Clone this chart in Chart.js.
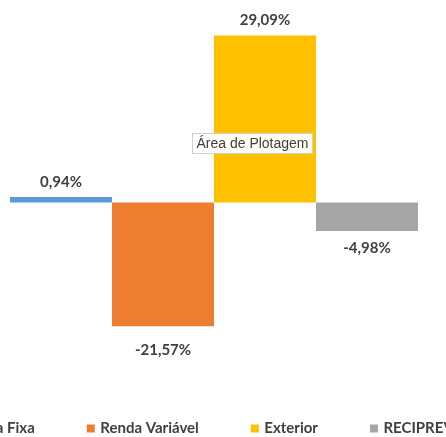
<!DOCTYPE html>
<html>
<head>
<meta charset="utf-8">
<script src="https://cdn.jsdelivr.net/npm/chart.js@4/dist/chart.umd.min.js"></script>
<style>
  html, body { margin: 0; padding: 0; background: #fff; overflow: hidden; width: 446px; height: 437px; }
  #wrap { position: absolute; left: -178px; top: 0; width: 760px; height: 446px; }
</style>
</head>
<body>
<div id="wrap"><canvas id="c" width="760" height="446"></canvas></div>
<script>
const categories = ['Rentabilidade'];
const seriesNames = ['Renda Fixa', 'Renda Variável', 'Exterior', 'RECIPREV'];
const seriesValues = [0.94, -21.57, 29.09, -4.98];
const seriesColors = ['#5B9BD5', '#ED7D31', '#FFC000', '#A5A5A5'];
const plotAreaLabel = 'Área de Plotagem';

const fmt = v => v.toFixed(2).replace('.', ',') + '%';

const labelPlugin = {
  id: 'valueLabels',
  afterDatasetsDraw(chart, args, opts) {
    const ctx = chart.ctx;
    ctx.save();
    ctx.font = 'bold 15px Lato, "Open Sans", sans-serif';
    ctx.fillStyle = '#404040';
    ctx.textAlign = 'center';
    ctx.textBaseline = 'middle';
    chart.data.datasets.forEach((ds, i) => {
      const meta = chart.getDatasetMeta(i);
      meta.data.forEach((bar, j) => {
        const v = ds.data[j];
        const off = opts.offsets[i];
        const y = v >= 0 ? bar.y - off : bar.y + off;
        ctx.fillText(fmt(v), bar.x, y);
      });
    });
    // "Área de Plotagem" hint box
    const ys = chart.scales.y;
    const cx = chart.getDatasetMeta(2).data[0].x - 12.5;
    const cy = ys.getPixelForValue(opts.hintValue);
    ctx.font = '14px "Liberation Sans", Arial, sans-serif';
    const w = ctx.measureText(plotAreaLabel).width + 8;
    const h = 20;
    ctx.fillStyle = 'rgba(255,255,255,0.96)';
    ctx.fillRect(cx - w / 2, cy - h / 2, w, h);
    ctx.strokeStyle = '#D0D0D0';
    ctx.lineWidth = 1;
    ctx.strokeRect(Math.round(cx - w / 2) + 0.5, Math.round(cy - h / 2) + 0.5, Math.round(w), h);
    ctx.fillStyle = '#404040';
    ctx.fillText(plotAreaLabel, cx, cy + 0.5);
    ctx.restore();
  }
};

new Chart(document.getElementById('c'), {
  type: 'bar',
  data: {
    labels: categories,
    datasets: seriesNames.map((name, i) => ({
      label: name,
      data: [seriesValues[i]],
      backgroundColor: seriesColors[i],
      borderWidth: 0,
      categoryPercentage: 408 / 736,
      barPercentage: 1
    }))
  },
  options: {
    responsive: false,
    animation: false,
    events: [],
    layout: { padding: { left: 0, right: 0, top: 18, bottom: 0 } },
    scales: {
      x: { display: false },
      y: {
        display: true,
        min: -28.66, max: 32.14,
        ticks: { display: false },
        grid: { display: false },
        border: { display: false },
        afterFit(scale) { scale.width = 24; }
      }
    },
    plugins: {
      tooltip: { enabled: false },
      legend: {
        position: 'bottom',
        labels: {
          usePointStyle: true,
          pointStyle: 'rect',
          boxWidth: 4,
          boxHeight: 8,
          padding: 54,
          color: '#404040',
          font: { family: 'Lato, "Open Sans", sans-serif', size: 15, weight: 'bold' }
        }
      },
      valueLabels: { offsets: [15, 24, 15, 17], hintValue: 10.3 }
    }
  },
  plugins: [labelPlugin]
});
</script>
</body>
</html>
